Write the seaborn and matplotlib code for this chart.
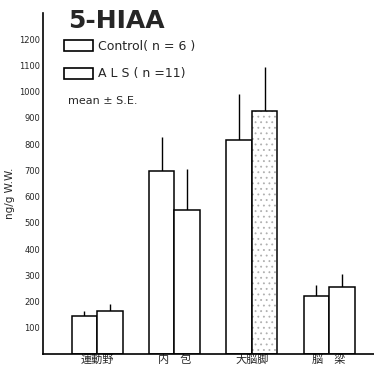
import matplotlib
matplotlib.use("Agg")
import matplotlib.pyplot as plt
import seaborn as sns
import pandas as pd
from matplotlib.patches import Patch

regions = ["運動野", "内　包", "大脳脚", "脳　梁"]
control_mean = [145, 697, 815, 222]
control_se = [20, 129, 175, 41]
als_mean = [165, 549, 925, 256]
als_se = [25, 155, 167, 49]
groups = ["Control", "ALS"]
legend_labels = ["Control( n = 6 )", "A L S ( n =11)"]
yticks = [100, 200, 300, 400, 500, 600, 700, 800, 900, 1000, 1100, 1200]

df = pd.DataFrame({
    "region": regions * 2,
    "value": control_mean + als_mean,
    "group": [groups[0]] * 4 + [groups[1]] * 4,
})
se = {groups[0]: control_se, groups[1]: als_se}

sns.set_style("white")
plt.rcParams["font.family"] = ["Noto Sans CJK JP", "DejaVu Sans"]
plt.rcParams["hatch.linewidth"] = 0.6

fig = plt.figure(figsize=(3.74, 3.68), dpi=100)
ax = fig.add_axes([0.115, 0.038, 0.885, 0.927])

sns.barplot(data=df, x="region", y="value", hue="group", hue_order=groups,
            order=regions, palette=["white", "white"], edgecolor="black",
            linewidth=1.1, width=0.66, gap=0, errorbar=None, legend=False, ax=ax)

for cont, g in zip(ax.containers, groups):
    for patch, m, s in zip(cont.patches, df[df.group == g]["value"], se[g]):
        cx = patch.get_x() + patch.get_width() / 2
        ax.vlines(cx, m, m + s, color="black", linewidth=1.0, zorder=1)
        patch.set_zorder(2)

# stippled ALS bar for 大脳脚
p = ax.containers[1].patches[2]
p.set_hatch("...")
if hasattr(p, "set_hatchcolor"):
    p.set_hatchcolor("#b0b0b0")
else:
    p._hatch_color = matplotlib.colors.to_rgba("#b0b0b0")

ax.set_xlim(-0.70, 3.58)
ax.set_ylim(0, 1300)
ax.set_yticks(yticks)
ax.set_yticklabels([str(t) for t in yticks], fontsize=6, family="DejaVu Sans")
ax.tick_params(axis="y", length=0, pad=2)
ax.tick_params(axis="x", length=0, pad=0.5, labelsize=8)
ax.set_xlabel("")
ax.set_ylabel("ng/g W.W.", fontsize=7.5, family="DejaVu Sans")
ax.yaxis.set_label_coords(-0.085, 0.47)
for sp in ["top", "right"]:
    ax.spines[sp].set_visible(False)
for sp in ["left", "bottom"]:
    ax.spines[sp].set_color("black")
    ax.spines[sp].set_linewidth(1.2)

fig.text(68 / 374, 1 - 28 / 368, "5-HIAA", fontsize=18, fontweight="bold",
         family="DejaVu Sans", ha="left", va="baseline")
handles = [Patch(facecolor="white", edgecolor="black", linewidth=1.2) for _ in groups]
leg = ax.legend(handles, legend_labels, loc="upper left",
                bbox_to_anchor=(64 / 374, 1 - 40 / 368), bbox_transform=fig.transFigure,
                frameon=False, handlelength=2.3, handleheight=1.0,
                handletextpad=0.4, labelspacing=1.15, borderpad=0, borderaxespad=0,
                prop={"family": "DejaVu Sans", "size": 9})
fig.text(68 / 374, 1 - 104 / 368, "mean ± S.E.", fontsize=8, family="DejaVu Sans",
         ha="left", va="baseline")

fig.savefig("out.png", dpi=100)
